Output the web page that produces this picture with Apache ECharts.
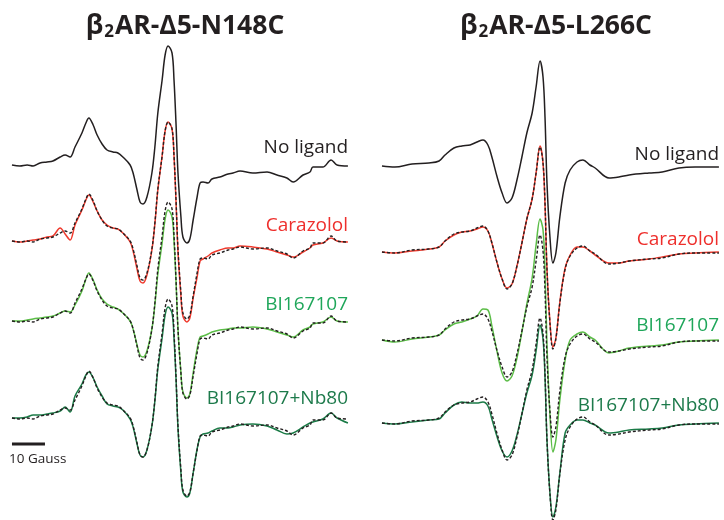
<!DOCTYPE html>
<html>
<head>
<meta charset="utf-8">
<script src="https://cdn.jsdelivr.net/npm/echarts@6.0.0/dist/echarts.min.js"></script>
<style>
  html, body { margin: 0; padding: 0; background: #fff; }
  #chart { width: 724px; height: 520px; }
</style>
</head>
<body>
<div id="chart"></div>
<script>
// magnetic field positions (Gauss), left panel N148C
var fieldN148C = [0.6, 3.0, 5.2, 7.0, 9.1, 11.2, 13.0, 15.2, 16.7, 18.2, 19.7, 21.8, 23.0, 23.9, 25.2, 26.4, 27.9, 29.4, 31.2, 32.7,
  34.2, 36.4, 37.3, 38.5, 39.4, 40.3, 41.5, 43.0, 43.9, 44.8, 46.1, 47.0, 47.9, 49.1, 49.7, 50.3, 50.9, 51.8, 52.4, 53.6,
  54.5, 55.5, 56.7, 57.6, 58.5, 60.0, 61.2, 63.6, 66.1, 67.6, 69.7, 73.6, 77.9, 80.9, 83.9, 85.8, 88.8, 90.9, 91.8, 94.8,
  97.3, 99.1, 102.4];

// EPR amplitudes (arb. units), N148C
var noLigandN148C = [0, -1, 0, -1, 2, 3, 4, 8, 10, 8, 18, 32, 42, 47, 40, 30, 21, 15, 13, 12,
  8, 0, -8, -25, -37, -39, -32, -8, 18, 52, 85, 110, 119, 112, 85, 42, -8, -52, -72, -78,
  -74, -55, -32, -18, -17, -18, -14, -12, -9, -8, -6, -8, -7, -10, -13, -17, -10, -7, -2, -2,
  5, 0, -1];
var carazololN148C = [0, -1, 0, 1, 2, 4, 5, 13, 7, 1, 16, 31, 41, 46, 39, 30, 21, 16, 13, 12,
  8, -1, -10, -28, -40, -42, -34, -9, 17, 51, 85, 110, 119, 112, 85, 40, -10, -55, -75, -81,
  -77, -57, -36, -20, -18, -15, -12, -9, -7, -7, -5, -6, -8, -11, -14, -16, -11, -7, -4, -2,
  3, 0, -1];
var bi167107N148C = [0, 0, 1, 2, 3, 4, 5, 8, 10, 9, 16, 30, 42, 48, 41, 31, 22, 17, 14, 12,
  8, 0, -8, -24, -34, -36, -30, -8, 16, 47, 78, 102, 111, 104, 80, 40, -8, -52, -71, -77,
  -73, -52, -28, -16, -15, -13, -11, -9, -8, -7, -7, -6, -8, -11, -14, -16, -9, -6, -3, -1,
  4, 0, -1];
var nb80N148C = [0, 0, 1, 3, 3, 4, 5, 7, 11, 6, 22, 34, 43, 46, 40, 31, 22, 14, 12, 11,
  8, -1, -9, -26, -37, -39, -32, -8, 17, 49, 80, 103, 111, 105, 80, 40, -10, -55, -74, -79,
  -75, -55, -31, -19, -16, -15, -13, -10, -10, -9, -7, -6, -8, -12, -16, -15, -9, -5, -4, -1,
  5, 0, -5];

// magnetic field positions (Gauss), right panel L266C
var fieldL266C = [0.6, 4.5, 9.7, 14.8, 17.9, 19.7, 22.4, 24.8, 27.3, 29.4, 31.2, 32.7, 33.9, 35.5, 37.0, 38.5, 40.0, 41.5, 43.0, 44.5,
  46.1, 47.3, 48.5, 49.4, 50.0, 50.6, 51.5, 52.4, 53.3, 54.5, 56.1, 57.6, 59.7, 61.5, 63.6, 65.2, 69.4, 72.4, 75.5, 81.5,
  85.5, 90.6, 95.5, 102.7];

var noLigandL266C = [0, -1, 2, 3, 5, 11, 18, 20, 21, 24, 26, 21, 9, -11, -27, -37, -32, -14, 9, 33,
  53, 79, 105, 89, 49, -17, -71, -97, -87, -51, -17, -4, 4, 6, 1, -2, -12, -11, -9, -7,
  -6, -2, -1, -1];
var carazololL266C = [0, -1, 1, 3, 5, 11, 17, 20, 21, 23, 25, 21, 9, -11, -27, -36, -32, -14, 9, 33,
  53, 79, 106, 89, 48, -17, -70, -95, -86, -50, -16, -3, 5, 5, 1, -3, -11, -11, -9, -7,
  -5, -2, -1, 0];
var bi167107L266C = [0, -2, 1, 3, 5, 10, 16, 18, 21, 24, 31, 30, 14, -12, -33, -41, -36, -18, 8, 36,
  62, 95, 121, 110, 70, -5, -75, -112, -100, -60, -20, 0, 6, 8, 3, 0, -13, -11, -8, -6,
  -5, -2, -1, 0];
var nb80L266C = [0, -1, 1, 3, 4, 10, 18, 21, 20, 20, 21, 17, 4, -14, -28, -34, -28, -12, 9, 30,
  48, 72, 98, 84, 46, -17, -70, -94, -84, -50, -10, -2, 3, 3, 0, -2, -10, -9, -7, -6,
  -5, -2, -1, 0];

// vertical stacking of the spectra (baselines)
var offsetsN148C = [-165, -241, -321, -418];
var offsetsL266C = [-166, -252, -340, -423];

var traceNames = ['No ligand', 'Carazolol', 'BI167107', 'BI167107+Nb80'];
var lineColors = ['#231f20', '#ef3a2d', '#5cbd48', '#1b7b47'];
var textColors = ['#231f20', '#ee2f2c', '#1fa65a', '#1d7a4b'];

var scaleBarGauss = 10;

var PX_PER_G = 3.3;
var leftW = 340, rightW = 344;

function shifted(field, values, offset) {
  return field.map(function (g, i) { return [g, values[i] + offset]; });
}

var series = [];
function addPanel(gi, field, traces, offsets) {
  traces.forEach(function (vals, k) {
    series.push({
      type: 'line', xAxisIndex: gi, yAxisIndex: gi,
      data: shifted(field, vals, offsets[k]),
      symbol: 'none', smooth: 0.35, silent: true, z: 2,
      lineStyle: { color: lineColors[k], width: 1.5 }
    });
    if (k > 0) {
      // no-ligand reference overlaid as dashed line
      series.push({
        type: 'line', xAxisIndex: gi, yAxisIndex: gi,
        data: shifted(field, traces[0], offsets[k]),
        symbol: 'none', smooth: 0.35, silent: true, z: 3,
        lineStyle: { color: '#231f20', width: 1.4, type: [3, 2] }
      });
    }
  });
}
addPanel(0, fieldN148C, [noLigandN148C, carazololN148C, bi167107N148C, nb80N148C], offsetsN148C);
addPanel(1, fieldL266C, [noLigandL266C, carazololL266C, bi167107L266C, nb80L266C], offsetsL266C);

// scale bar
series.push({
  type: 'line', xAxisIndex: 0, yAxisIndex: 0,
  data: [[0.6, -444], [0.6 + scaleBarGauss, -444]],
  symbol: 'none', silent: true,
  lineStyle: { color: '#231f20', width: 3 }
});

var labelY = [[147, 225, 304, 398], [154, 239, 325, 405]];
var labelX = [348, 719];
var graphics = [];
for (var p = 0; p < 2; p++) {
  for (var k = 0; k < 4; k++) {
    graphics.push({
      type: 'text', x: labelX[p], y: labelY[p][k] + 1, silent: true,
      style: {
        text: traceNames[k], fill: textColors[k],
        font: '19px "Open Sans"', align: 'right', verticalAlign: 'middle',
        textAlign: 'right', textVerticalAlign: 'middle'
      }
    });
  }
}
graphics.push({
  type: 'text', x: 9, y: 459, silent: true,
  style: { text: '10 Gauss', fill: '#231f20', font: '13.5px "Open Sans"', verticalAlign: 'middle', textVerticalAlign: 'middle' }
});

var titleRich = {
  b: { fontFamily: 'Open Sans', fontWeight: 'bold', fontSize: 26.5, color: '#231f20', lineHeight: 30 },
  s: { fontFamily: 'Open Sans', fontWeight: 'bold', fontSize: 17, color: '#231f20', lineHeight: 30, verticalAlign: 'bottom', padding: [8, 1, 0, 1] }
};

var chart = echarts.init(document.getElementById('chart'));
chart.setOption({
  animation: false,
  backgroundColor: '#fff',
  title: [
    { text: '{b|β}{s|2}{b|AR-Δ5-N148C}', left: 180, top: 6, textAlign: 'center', textStyle: { rich: titleRich } },
    { text: '{b|β}{s|2}{b|AR-Δ5-L266C}', left: 551, top: 6, textAlign: 'center', textStyle: { rich: titleRich } }
  ],
  grid: [
    { left: 10, top: 0, width: leftW, height: 520 },
    { left: 380, top: 0, width: rightW, height: 520 }
  ],
  xAxis: [
    { type: 'value', gridIndex: 0, min: 0, max: leftW / PX_PER_G, show: false },
    { type: 'value', gridIndex: 1, min: 0, max: rightW / PX_PER_G, show: false }
  ],
  yAxis: [
    { type: 'value', gridIndex: 0, min: -520, max: 0, show: false },
    { type: 'value', gridIndex: 1, min: -520, max: 0, show: false }
  ],
  graphic: graphics,
  series: series
});
window.addEventListener('resize', function () { chart.resize(); });
</script>
</body>
</html>
